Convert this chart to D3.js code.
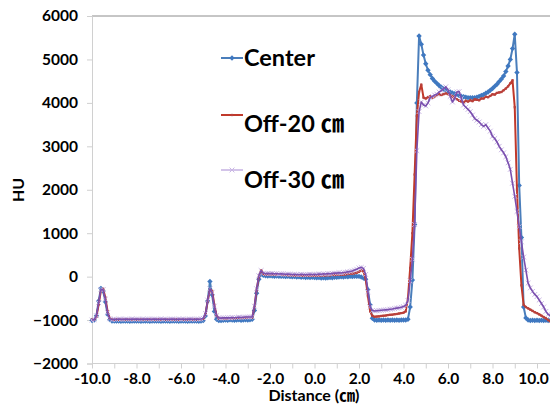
<!DOCTYPE html>
<html><head><meta charset="utf-8">
<script src="https://cdn.jsdelivr.net/npm/d3@7/dist/d3.min.js"></script>
<style>
html,body{margin:0;padding:0;background:#fff;}
svg{display:block;}
text{font-family:Lato,"Noto Sans CJK KR","Noto Sans",sans-serif;font-weight:bold;fill:#000;}
</style></head>
<body>
<svg id="chart" width="550" height="418"></svg>
<script>
// ---- data ----
const distance = [
 -10.0,-9.9,-9.8,-9.7,-9.6,-9.5,-9.4,-9.3,-9.2,-9.1,
 -9.0,-8.9,-8.8,-8.7,-8.6,-8.5,-8.4,-8.3,-8.2,-8.1,
 -8.0,-7.9,-7.8,-7.7,-7.6,-7.5,-7.4,-7.3,-7.2,-7.1,
 -7.0,-6.9,-6.8,-6.7,-6.6,-6.5,-6.4,-6.3,-6.2,-6.1,
 -6.0,-5.9,-5.8,-5.7,-5.6,-5.5,-5.4,-5.3,-5.2,-5.1,
 -5.0,-4.9,-4.8,-4.7,-4.6,-4.5,-4.4,-4.3,-4.2,-4.1,
 -4.0,-3.9,-3.8,-3.7,-3.6,-3.5,-3.4,-3.3,-3.2,-3.1,
 -3.0,-2.9,-2.8,-2.7,-2.6,-2.5,-2.4,-2.3,-2.2,-2.1,
 -2.0,-1.9,-1.8,-1.7,-1.6,-1.5,-1.4,-1.3,-1.2,-1.1,
 -1.0,-0.9,-0.8,-0.7,-0.6,-0.5,-0.4,-0.3,-0.2,-0.1,
 0.0,0.1,0.2,0.3,0.4,0.5,0.6,0.7,0.8,0.9,
 1.0,1.1,1.2,1.3,1.4,1.5,1.6,1.7,1.8,1.9,
 2.0,2.1,2.2,2.3,2.4,2.5,2.6,2.7,2.8,2.9,
 3.0,3.1,3.2,3.3,3.4,3.5,3.6,3.7,3.8,3.9,
 4.0,4.1,4.2,4.3,4.4,4.5,4.6,4.7,4.8,4.9,
 5.0,5.1,5.2,5.3,5.4,5.5,5.6,5.7,5.8,5.9,
 6.0,6.1,6.2,6.3,6.4,6.5,6.6,6.7,6.8,6.9,
 7.0,7.1,7.2,7.3,7.4,7.5,7.6,7.7,7.8,7.9,
 8.0,8.1,8.2,8.3,8.4,8.5,8.6,8.7,8.8,8.9,
 9.0,9.1,9.2,9.3,9.4,9.5,9.6,9.7,9.8,9.9,
 10.0,10.1,10.2,10.3,10.4,10.5,10.6
];

const center = [
 -1010,-1000,-900,-560,-270,-330,-580,-870,-990,-1020,
 -1020,-1025,-1020,-1030,-1020,-1025,-1020,-1030,-1025,-1020,
 -1025,-1020,-1030,-1020,-1025,-1020,-1030,-1025,-1020,-1025,
 -1020,-1030,-1025,-1020,-1025,-1030,-1020,-1025,-1020,-1030,
 -1025,-1020,-1025,-1030,-1020,-1025,-1020,-1025,-1030,-1020,
 -1010,-900,-560,-110,-420,-800,-980,-1010,-1010,-1005,
 -1000,-1005,-995,-1000,-1005,-1000,-995,-1005,-1000,-995,
 -1000,-995,-980,-780,-380,-60,60,30,20,15,
 20,15,10,15,10,5,10,0,5,0,
 -5,0,-10,-5,-15,-10,-20,-15,-20,-15,
 -20,-25,-20,-30,-25,-30,-25,-20,-25,-15,
 -15,-10,-5,-10,0,-5,5,0,10,5,
 5,-10,-30,-60,-300,-650,-960,-1000,-1005,-1000,
 -1005,-1000,-1005,-1000,-1005,-1000,-1005,-1000,-1005,-1000,
 -1000,-1000,-980,-700,-80,1200,4000,5540,5350,5100,
 4900,4750,4650,4560,4500,4450,4400,4360,4320,4290,
 4270,4250,4230,4210,4190,4170,4150,4140,4130,4120,
 4120,4120,4120,4130,4150,4170,4190,4220,4250,4290,
 4330,4380,4430,4490,4550,4620,4720,4850,5000,5250,
 5580,4700,2100,900,-700,-950,-1000,-1010,-1005,-1010,
 -1005,-1010,-1005,-1010,-1005,-1010,-1005
];

const off20 = [
 -990,-985,-920,-640,-330,-280,-480,-800,-960,-990,
 -990,-985,-990,-980,-990,-985,-980,-990,-985,-990,
 -985,-990,-980,-985,-990,-985,-980,-985,-990,-985,
 -980,-990,-985,-980,-990,-985,-990,-980,-985,-990,
 -985,-980,-990,-985,-980,-990,-985,-980,-985,-980,
 -970,-860,-560,-300,-330,-650,-900,-960,-970,-965,
 -965,-960,-965,-955,-960,-955,-950,-955,-950,-945,
 -945,-940,-940,-700,-300,0,150,60,50,45,
 50,45,50,40,45,40,35,40,30,35,
 30,25,30,20,25,20,25,20,15,20,
 20,25,20,30,25,30,35,30,40,35,
 40,45,50,45,55,60,65,70,80,90,
 110,150,120,-50,-450,-800,-900,-925,-920,-915,
 -905,-900,-895,-885,-880,-875,-865,-860,-850,-840,
 -830,-800,-500,200,1000,2350,3700,4250,4420,4120,
 4100,4130,4150,4120,4150,4180,4200,4180,4200,4220,
 4200,4180,4150,4110,4080,4050,4030,4010,4050,4030,
 4060,4040,4080,4070,4060,4100,4100,4140,4130,4160,
 4200,4190,4230,4240,4250,4290,4330,4380,4450,4520,
 3900,2000,650,-200,-650,-700,-730,-760,-790,-820,
 -840,-870,-900,-930,-960,-1000,-1030
];

const off30 = [
 -1000,-990,-900,-600,-300,-300,-520,-830,-970,-990,
 -980,-985,-975,-980,-985,-975,-980,-985,-975,-980,
 -975,-980,-985,-975,-980,-975,-985,-980,-975,-980,
 -985,-975,-980,-975,-985,-980,-975,-980,-985,-975,
 -980,-975,-985,-980,-975,-980,-985,-975,-980,-975,
 -960,-850,-540,-280,-360,-680,-900,-950,-955,-950,
 -950,-945,-950,-940,-945,-940,-935,-940,-935,-930,
 -930,-930,-930,-680,-280,20,140,80,70,75,
 70,75,65,70,60,65,60,55,60,55,
 50,55,50,45,55,50,45,50,55,50,
 55,50,60,55,65,60,70,65,75,80,
 80,90,85,95,100,110,120,130,150,170,
 200,210,190,50,-350,-700,-780,-790,-785,-780,
 -775,-770,-765,-760,-750,-745,-735,-725,-715,-705,
 -690,-660,-550,-100,400,1200,2900,3800,4020,3950,
 3930,4000,4120,4150,4180,4200,4250,4280,4320,4370,
 4300,4150,4020,4100,4250,4260,4100,3950,3900,3850,
 3800,3720,3640,3600,3560,3500,3460,3500,3420,3350,
 3230,3180,3100,3000,2920,2850,2760,2620,2470,2150,
 1850,1500,1150,800,450,150,-150,-260,-340,-410,
 -460,-540,-620,-700,-800,-870,-900
];

const seriesNames = ["Center", "Off-20 \u339D", "Off-30 \u339D"];
const yTicks = [-2000, -1000, 0, 1000, 2000, 3000, 4000, 5000, 6000];
const xTicks = [-10,-9,-8,-7,-6,-5,-4,-3,-2,-1,0,1,2,3,4,5,6,7,8,9,10];
const xTickLabels = ["-10.0","","-8.0","","-6.0","","-4.0","","-2.0","","0.0","","2.0","","4.0","","6.0","","8.0","","10.0"];
const xTitle = "Distance (\u339D)";
const yTitle = "HU";

// ---- drawing ----
const svg = d3.select("#chart");
const W = 550;
const x = d3.scaleLinear().domain([-10, 10]).range([92, 537]);
const y = d3.scaleLinear().domain([-2000, 6000]).range([363.5, 16]);

const axisColor = "#d0d0d0";

svg.append("line")
  .attr("x1", x(-10)).attr("x2", W)
  .attr("y1", y(6000)).attr("y2", y(6000))
  .attr("stroke", "#8c8c8c").attr("stroke-width", 1);

const yAxis = svg.append("g").attr("transform", `translate(${x(-10)},0)`)
  .call(d3.axisLeft(y).tickValues(yTicks).tickSize(5).tickPadding(9).tickFormat(d3.format("d")));
yAxis.select(".domain").attr("stroke", axisColor);
yAxis.selectAll(".tick line").attr("stroke", axisColor);
yAxis.selectAll(".tick text").style("font-size", "15.5px").attr("fill", "#000");

const xAxis = svg.append("g").attr("transform", `translate(0,${y(-2000)})`)
  .call(d3.axisBottom(x).tickValues(xTicks).tickSize(5).tickPadding(4)
    .tickFormat((d, i) => xTickLabels[i]));
xAxis.select(".domain").remove();
xAxis.append("line").attr("x1", x(-10)).attr("x2", W).attr("y1", 0).attr("y2", 0)
  .attr("stroke", axisColor);
xAxis.selectAll(".tick line").attr("stroke", axisColor);
xAxis.selectAll(".tick text").style("font-size", "15.5px").attr("fill", "#000");
xAxis.selectAll(".tick text").filter((d) => d === 10).attr("dx", "-4");

svg.append("text").attr("x", 314).attr("y", 401).attr("text-anchor", "middle")
  .style("font-size", "16px").text(xTitle);
svg.append("text").attr("transform", "translate(24,190) rotate(-90)")
  .attr("text-anchor", "middle").style("font-size", "16px").text(yTitle);

const series = [
  {name: seriesNames[0], values: center, color: "#4A7EBB", mcolor: "#3F78C0", marker: "diamond", width: 2, ms: 2.7},
  {name: seriesNames[1], values: off20, color: "#C0392B", mcolor: "#B8413C", marker: "square", width: 2, ms: 1.6},
  {name: seriesNames[2], values: off30, color: "#7A4FAE", mcolor: "#C9B6E4", marker: "x", width: 1.6, ms: 2.4}
];

const line = d3.line().x((d, i) => x(distance[i])).y(d => y(d));

function drawMarker(g, type, cx, cy, color, s) {
  if (type === "diamond") {
    g.append("path").attr("d", `M${cx},${cy - s}L${cx + s},${cy}L${cx},${cy + s}L${cx - s},${cy}Z`)
      .attr("fill", color);
  } else if (type === "square") {
    g.append("rect").attr("x", cx - s * 0.7).attr("y", cy - s * 0.7)
      .attr("width", s * 1.4).attr("height", s * 1.4).attr("fill", color);
  } else {
    g.append("path").attr("d", `M${cx - s},${cy - s}L${cx + s},${cy + s}M${cx - s},${cy + s}L${cx + s},${cy - s}`)
      .attr("stroke", color).attr("stroke-width", 1).attr("fill", "none");
  }
}

series.forEach(s => {
  const g = svg.append("g");
  if (s.marker === "x") {
    s.values.forEach((v, i) => drawMarker(g, s.marker, x(distance[i]), y(v), s.mcolor, s.ms));
  }
  g.append("path").datum(s.values).attr("d", line)
    .attr("fill", "none").attr("stroke", s.color).attr("stroke-width", s.width)
    .attr("stroke-linejoin", "round");
  if (s.marker !== "x") {
    s.values.forEach((v, i) => drawMarker(g, s.marker, x(distance[i]), y(v), s.mcolor, s.ms));
  }
});

const legendY = [58, 115, 170];
const legendText = [66, 132, 188];
series.forEach((s, i) => {
  const g = svg.append("g");
  g.append("line").attr("x1", 221).attr("x2", 243).attr("y1", legendY[i]).attr("y2", legendY[i])
    .attr("stroke", i === 2 ? s.mcolor : s.color).attr("stroke-width", s.width);
  drawMarker(g, s.marker, 232, legendY[i], s.mcolor, s.ms);
  g.append("text").attr("x", 244).attr("y", legendText[i]).style("font-size", "23.5px").text(s.name);
});
</script>
</body></html>
